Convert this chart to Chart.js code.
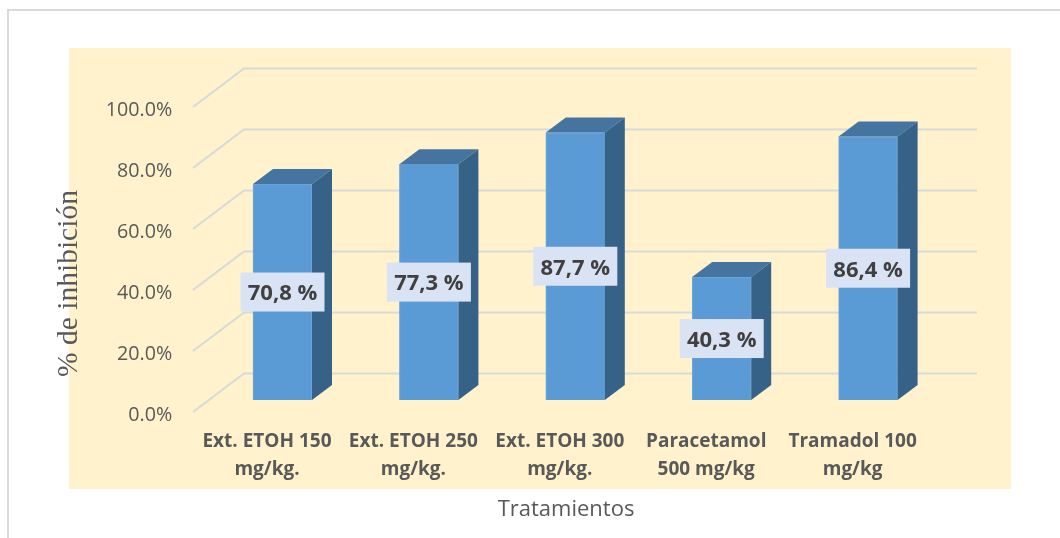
<!DOCTYPE html>
<html>
<head>
<meta charset="utf-8">
<style>
  html,body{margin:0;padding:0;background:#fff;}
  #wrap{width:1060px;height:538px;position:relative;}
</style>
<script src="https://cdn.jsdelivr.net/npm/chart.js@4/dist/chart.umd.min.js"></script>
</head>
<body>
<div id="wrap"><canvas id="chart" width="1060" height="538"></canvas></div>
<script>
const categories = [
  ['Ext. ETOH 150','mg/kg.'],
  ['Ext. ETOH 250','mg/kg.'],
  ['Ext. ETOH 300','mg/kg.'],
  ['Paracetamol','500 mg/kg'],
  ['Tramadol 100','mg/kg']
];
const inhibition = [70.8, 77.3, 87.7, 40.3, 86.4];
const valueLabels = ['70,8 %','77,3 %','87,7 %','40,3 %','86,4 %'];
const xTitle = 'Tratamientos';
const yTitle = '% de inhibición';

// 3D look: fake depth around the flat bars, walls drawn from the y scale
const pseudo3d = {
  id:'pseudo3d',
  beforeDraw(chart){
    const c = chart.ctx;
    c.save();
    c.fillStyle = '#fff2cc';
    c.fillRect(69,48,942,441);
    c.fillStyle = '#d9d9d9';
    c.fillRect(7,9,1053,2);
    c.fillRect(7,9,2,529);
    c.restore();
  },
  beforeDatasetsDraw(chart){
    const c = chart.ctx, y = chart.scales.y;
    c.save();
    c.strokeStyle = '#d9d9d9';
    c.lineWidth = 2;
    y.ticks.forEach(t=>{
      const py = y.getPixelForValue(t.value);
      c.beginPath();
      c.moveTo(193, py+12);
      c.lineTo(244, py-26.5);
      c.lineTo(977, py-26.5);
      c.stroke();
    });
    // axis titles sit off-centre in the original, so they are placed by hand
    c.fillStyle = '#595959';
    c.textAlign = 'center';
    c.font = '22px "Open Sans"';
    c.textBaseline = 'middle';
    c.fillText(xTitle, 566, 509.5);
    c.translate(77, 283.5);
    c.rotate(-Math.PI/2);
    c.font = '29.5px "Liberation Serif"';
    c.textBaseline = 'alphabetic';
    c.fillText(yTitle, 0, 0);
    c.restore();
  },
  afterDatasetsDraw(chart){
    const c = chart.ctx, bars = chart.getDatasetMeta(0).data;
    const dx = 20, dy = 15;
    c.save();
    bars.forEach((b,i)=>{
      const l = b.x - b.width/2, r = b.x + b.width/2, top = b.y, base = b.base;
      c.fillStyle = '#44749f';
      c.beginPath();
      c.moveTo(l,top); c.lineTo(l+dx,top-dy); c.lineTo(r+dx,top-dy); c.lineTo(r,top);
      c.closePath(); c.fill();
      c.fillStyle = '#376288';
      c.beginPath();
      c.moveTo(r,top); c.lineTo(r+dx,top-dy); c.lineTo(r+dx,base-dy); c.lineTo(r,base);
      c.closePath(); c.fill();
      // value label box in the middle of the front face
      const my = (top+base)/2;
      c.fillStyle = '#dae3f3';
      c.fillRect(b.x-42, my-19.5, 84, 39);
      c.fillStyle = '#404040';
      c.font = 'bold 22px "Open Sans"';
      c.textAlign = 'center';
      c.textBaseline = 'middle';
      c.fillText(valueLabels[i], b.x, my+2);
    });
    c.restore();
  }
};

new Chart(document.getElementById('chart'), {
  type:'bar',
  data:{ labels:categories, datasets:[{ data:inhibition, backgroundColor:'#5b9bd5', borderColor:'#6fa8db', borderWidth:1, barThickness:59 }] },
  options:{
    responsive:false,
    animation:false,
    layout:{ padding:{ left:53, right:118.7, top:95, bottom:0 } },
    plugins:{ legend:{display:false}, tooltip:{enabled:false} },
    scales:{
      x:{
        afterFit(s){ s.height = 138; },
        grid:{display:false, drawTicks:false},
        border:{display:false},
        ticks:{ color:'#595959', font:{family:'"Open Sans"', size:19, weight:'bold', lineHeight:1.47}, padding:28, labelOffset:-15.5, autoSkip:false, maxRotation:0, minRotation:0 }
      },
      y:{
        min:0, max:100,
        afterFit(s){ s.width = 156.3; },
        grid:{display:false, drawTicks:false},
        border:{display:false},
        ticks:{ stepSize:20, color:'#595959', font:{family:'"Open Sans"', size:19.7}, padding:37, labelOffset:15.5, callback:v=>v.toFixed(1)+'%' }
      }
    }
  },
  plugins:[pseudo3d]
});
</script>
</body>
</html>
